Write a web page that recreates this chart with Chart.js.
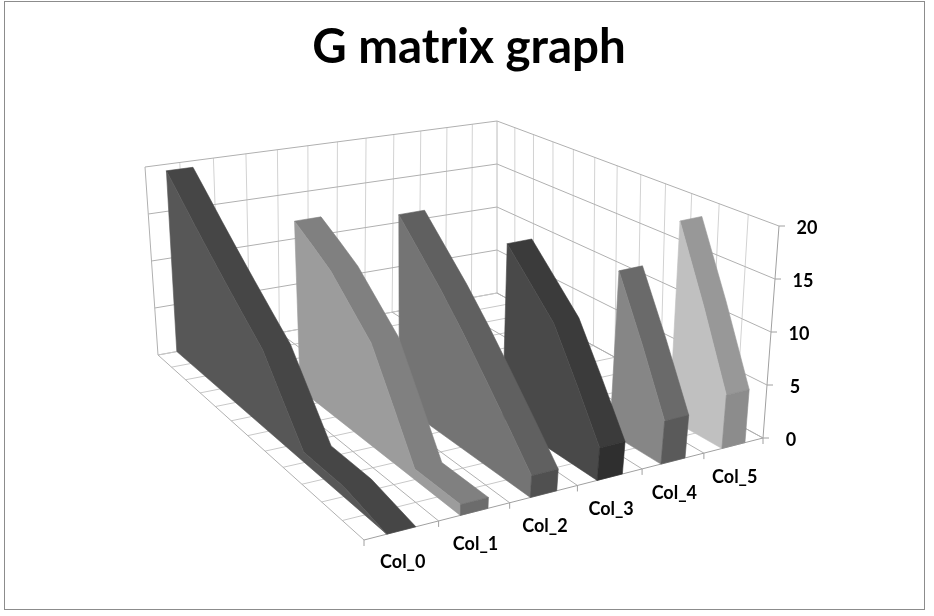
<!DOCTYPE html>
<html>
<head>
<meta charset="utf-8">
<title>G matrix graph</title>
<script src="https://cdn.jsdelivr.net/npm/chart.js@4"></script>
<style>
  html, body { margin: 0; padding: 0; background: #fff; }
  canvas { display: block; }
</style>
</head>
<body>
<canvas id="myCanvas" width="934" height="616"></canvas>
<script>
const titleText = 'G matrix graph';
const columns = ['Col_0', 'Col_1', 'Col_2', 'Col_3', 'Col_4', 'Col_5'];
const valueTicks = [0, 5, 10, 15, 20];
const depthCount = 12;

// values per row, row 0 is the front of the chart, null = empty cell
const col0 = [0, 0.5, 1, 1, 1, 4.5, 8, 9.9, 11.8, 13.7, 15.6, 17.5, 19.3];
const col1 = [1, 1, 1, 5.5, 10, 12.2, 14.4, 15.8, 17.1, null, null, null, null];
const col2 = [2, 5, 8, 11, 13.8, 16.3, 18.8, null, null, null, null, null, null];
const col3 = [3, 7.4, 11.8, 14.4, 17, null, null, null, null, null, null, null, null];
const col4 = [4, 9.8, 15.5, null, null, null, null, null, null, null, null, null, null];
const col5 = [5, 12.1, 19.1, null, null, null, null, null, null, null, null, null, null];
const series = [col0, col1, col2, col3, col4, col5];

const sideColors = ['#575757', '#9c9c9c', '#747474', '#494949', '#868686', '#c0c0c0'];
const topColors = ['#464646', '#808080', '#606060', '#3b3b3b', '#6a6a6a', '#989898'];
const frontColors = ['#3f3f3f', '#6c6c6c', '#505050', '#2f2f2f', '#5a5a5a', '#8c8c8c'];

// corners of the 3d box on the page: front, right, back, left
const floorQuad = [[364, 540], [763, 438], [497, 293], [158, 355]];
const roofQuad = [[353, 324], [779, 226], [497, 121], [145, 167]];
const ribbonStart = 0.30;
const ribbonEnd = 0.69;
const maxValue = 20;

function makeHomography(q) {
  const dx1 = q[1][0] - q[2][0], dx2 = q[3][0] - q[2][0];
  const dy1 = q[1][1] - q[2][1], dy2 = q[3][1] - q[2][1];
  const sx = q[0][0] - q[1][0] + q[2][0] - q[3][0];
  const sy = q[0][1] - q[1][1] + q[2][1] - q[3][1];
  const den = dx1 * dy2 - dx2 * dy1;
  const g = (sx * dy2 - dx2 * sy) / den;
  const h = (dx1 * sy - sx * dy1) / den;
  const a = q[1][0] - q[0][0] + g * q[1][0];
  const b = q[3][0] - q[0][0] + h * q[3][0];
  const d = q[1][1] - q[0][1] + g * q[1][1];
  const e = q[3][1] - q[0][1] + h * q[3][1];
  return function (u, w) {
    const n = g * u + h * w + 1;
    return [(a * u + b * w + q[0][0]) / n, (d * u + e * w + q[0][1]) / n];
  };
}
const floorAt = makeHomography(floorQuad);
const roofAt = makeHomography(roofQuad);

// u across the columns, w into the depth, both 0..1
function project(u, w, value) {
  const f = floorAt(u, w), r = roofAt(u, w), t = value / maxValue;
  return { x: f[0] + (r[0] - f[0]) * t, y: f[1] + (r[1] - f[1]) * t };
}

function line(points, color, width) {
  return { data: points, showLine: true, fill: false, borderColor: color,
    borderWidth: width || 1, pointRadius: 0, tension: 0 };
}
function face(points, color) {
  return { data: points.concat([points[0]]), showLine: true, fill: 'shape',
    backgroundColor: color, borderColor: color, borderWidth: 0.6, pointRadius: 0, tension: 0 };
}

const sets = [];

// walls and floor
for (let i = 0; i <= 12; i++) {
  sets.push(line([project(i / 12, 1, 0), project(i / 12, 1, maxValue)], i == 0 ? '#b0b0b0' : '#d2d2d2'));
  sets.push(line([project(1, i / 12, 0), project(1, i / 12, maxValue)], i == 0 ? '#a0a0a0' : '#d2d2d2'));
}
valueTicks.forEach(v => {
  sets.push(line([project(0, 1, v), project(1, 1, v), project(1, 0, v)], '#b0b0b0'));
});
for (let i = 1; i <= depthCount; i++) {
  sets.push(line([project(0, i / depthCount, 0), project(1, i / depthCount, 0)], '#c8c8c8'));
}
for (let i = 0; i <= columns.length; i++) {
  const u = i / columns.length;
  sets.push(line([project(u, 0, 0), project(u, 1, 0)], '#b0b0b0'));
}
sets.push(line([project(0, 0, 0), project(1, 0, 0)], '#a0a0a0'));

// ribbons, far column first so the nearer ones cover it
for (let s = series.length - 1; s >= 0; s--) {
  const vals = series[s];
  const u0 = (s + ribbonStart) / columns.length;
  const u1 = (s + ribbonEnd) / columns.length;
  let last = vals.length - 1;
  while (vals[last] == null) last--;

  // top surface, one outline so there are no seams between rows
  const topA = [], topB = [];
  for (let k = last; k >= 0; k--) {
    topA.push(project(u1, k / depthCount, vals[k]));
    topB.unshift(project(u0, k / depthCount, vals[k]));
  }
  sets.push(face(topA.concat(topB), topColors[s]));
  // side facing left
  const side = [];
  for (let k = last; k >= 0; k--) side.push(project(u0, k / depthCount, vals[k]));
  side.push(project(u0, 0, 0));
  side.push(project(u0, last / depthCount, 0));
  sets.push(face(side, sideColors[s]));
  // front end
  if (vals[0] > 0) {
    sets.push(face([project(u0, 0, vals[0]), project(u1, 0, vals[0]),
      project(u1, 0, 0), project(u0, 0, 0)], frontColors[s]));
  }
}

const textPlugin = {
  id: 'boxText',
  beforeDatasetsDraw(chart) {
    const ctx = chart.ctx, sx = chart.scales.x, sy = chart.scales.y;
    const px = p => [sx.getPixelForValue(p.x), sy.getPixelForValue(p.y)];
    ctx.save();
    ctx.strokeStyle = '#8c8c8c';
    ctx.lineWidth = 1;
    ctx.strokeRect(4.5, 1.5, 920, 608);
    ctx.strokeStyle = '#a0a0a0';
    valueTicks.forEach(v => {
      const p = px(project(1, 0, v));
      ctx.beginPath(); ctx.moveTo(p[0], p[1]); ctx.lineTo(p[0] + 6, p[1]); ctx.stroke();
    });
    for (let i = 0; i <= columns.length; i++) {
      const p = px(project(i / columns.length, 0, 0));
      ctx.beginPath(); ctx.moveTo(p[0], p[1]); ctx.lineTo(p[0], p[1] + 6); ctx.stroke();
    }
    ctx.restore();
  },
  afterDatasetsDraw(chart) {
    const ctx = chart.ctx, sx = chart.scales.x, sy = chart.scales.y;
    const px = p => [sx.getPixelForValue(p.x), sy.getPixelForValue(p.y)];
    ctx.save();
    ctx.fillStyle = '#000';
    ctx.textAlign = 'center';
    ctx.textBaseline = 'alphabetic';
    ctx.font = 'bold 47.5px Lato';
    ctx.fillText(titleText, 469, 63);
    ctx.font = 'bold 18px Lato';
    ctx.textBaseline = 'middle';
    valueTicks.forEach(v => {
      const p = px(project(1, 0, v));
      ctx.fillText(String(v), p[0] + 28, p[1] + 2.5);
    });
    columns.forEach((c, i) => {
      const p = px(project((i + 0.5) / columns.length, 0, 0));
      ctx.fillText(c, p[0] + 1, p[1] + 32);
    });
    ctx.restore();
  }
};

new Chart(document.getElementById('myCanvas'), {
  type: 'scatter',
  data: { datasets: sets.reverse() },
  plugins: [textPlugin],
  options: {
    responsive: false,
    animation: false,
    layout: { padding: 0 },
    plugins: { legend: { display: false }, tooltip: { enabled: false } },
    scales: {
      x: { type: 'linear', min: 0, max: 934, display: false },
      y: { type: 'linear', min: 0, max: 616, reverse: true, display: false }
    }
  }
});
</script>
</body>
</html>
